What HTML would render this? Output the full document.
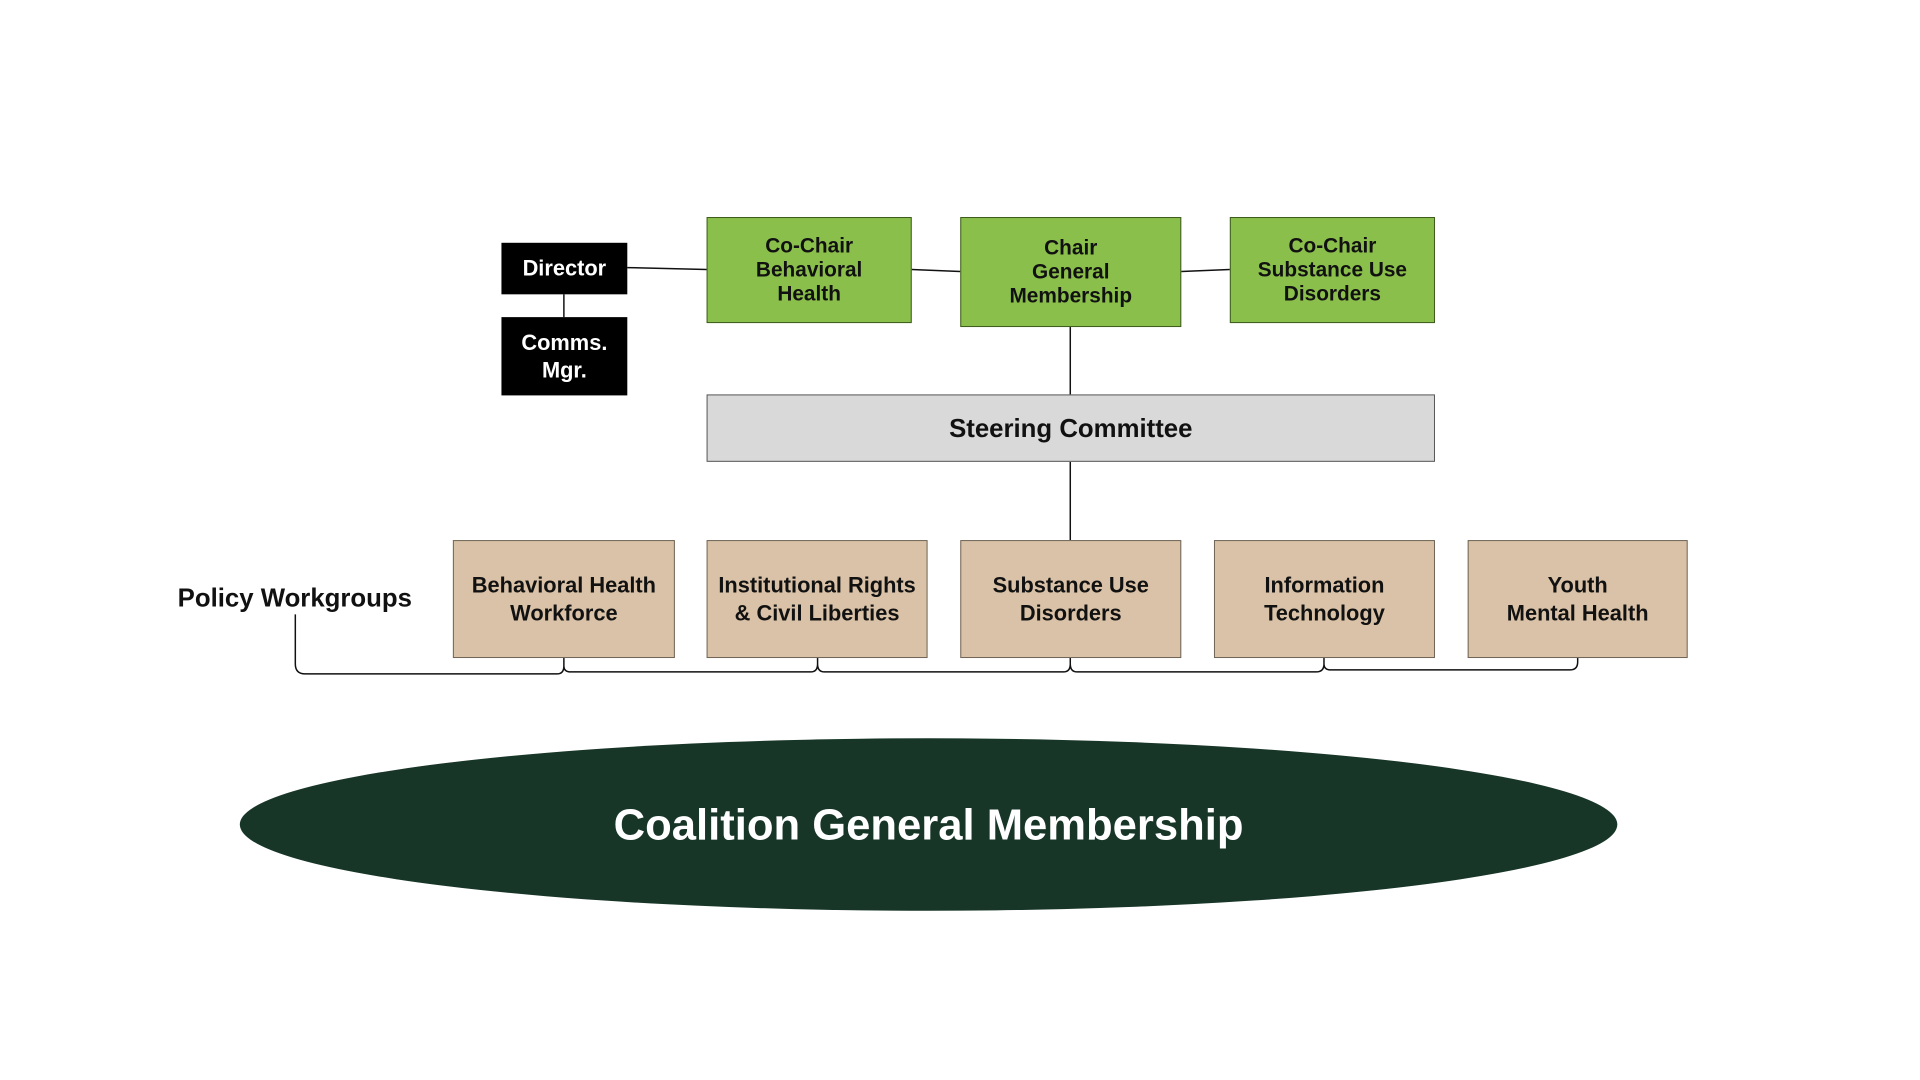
<!DOCTYPE html>
<html><head><meta charset="utf-8"><style>
html,body{margin:0;padding:0;background:#fff;}
body{width:1920px;height:1080px;position:relative;overflow:hidden;font-family:"Liberation Sans",sans-serif;font-weight:bold;}
#w{position:absolute;left:0;top:0;width:1920px;height:1080px;transform:scale(0.991);transform-origin:0 0;}
.b{position:absolute;box-sizing:border-box;display:flex;align-items:center;justify-content:center;text-align:center;font-size:21px;line-height:24px;}
.k{background:#000;color:#fff;}
.g{background:#8bbf4b;border:1px solid #3d5a1e;color:#111;}
.s{background:#d9d9d9;border:1px solid #555;color:#111;font-size:26px;}
.t{background:#d9c2a7;border:1px solid #6e6456;color:#111;line-height:28px;font-size:22px;}
svg{position:absolute;left:0;top:0;}
</style></head><body><div id="w">
<svg width="1920" height="1080">
<g stroke="#111" stroke-width="1.5" fill="none">
<line x1="633" y1="270" x2="713" y2="272"/>
<line x1="920" y1="272" x2="969" y2="274"/>
<line x1="1192" y1="274" x2="1241" y2="272"/>
<line x1="569" y1="297" x2="569" y2="320"/>
<line x1="1080" y1="330" x2="1080" y2="398"/>
<line x1="1080" y1="466" x2="1080" y2="545"/>
<path d="M298 620 V670 Q298 680 308 680 H562 Q569 680 569 672 V664 M569 672 Q569 678 576 678 H818 Q825 678 825 670 V664 M825 670 Q825 678 832 678 H1073 Q1080 678 1080 670 V664 M1080 670 Q1080 678 1087 678 H1328 Q1336 678 1336 670 V664 M1336 670 Q1336 676 1343 676 H1584 Q1592 676 1592 668 V664"/>
</g>
<ellipse cx="937" cy="832" rx="695" ry="87" fill="#183628"/>
<text x="937" y="847" fill="#fff" font-family="Liberation Sans, sans-serif" font-weight="bold" font-size="44" text-anchor="middle">Coalition General Membership</text>
</svg>
<div class="b k" style="left:506px;top:245px;width:127px;height:52px;font-size:22px;">Director</div>
<div class="b k" style="left:506px;top:320px;width:127px;height:79px;line-height:28px;font-size:22px;">Comms.<br>Mgr.</div>
<div class="b g" style="left:713px;top:219px;width:207px;height:107px;">Co-Chair<br>Behavioral<br>Health</div>
<div class="b g" style="left:969px;top:219px;width:223px;height:111px;">Chair<br>General<br>Membership</div>
<div class="b g" style="left:1241px;top:219px;width:207px;height:107px;">Co-Chair<br>Substance Use<br>Disorders</div>
<div class="b s" style="left:713px;top:398px;width:735px;height:68px;">Steering Committee</div>
<div class="b t" style="left:457px;top:545px;width:224px;height:119px;">Behavioral Health<br>Workforce</div>
<div class="b t" style="left:713px;top:545px;width:223px;height:119px;">Institutional Rights<br>&amp; Civil Liberties</div>
<div class="b t" style="left:969px;top:545px;width:223px;height:119px;">Substance Use<br>Disorders</div>
<div class="b t" style="left:1225px;top:545px;width:223px;height:119px;">Information<br>Technology</div>
<div class="b t" style="left:1481px;top:545px;width:222px;height:119px;">Youth<br>Mental Health</div>
<div class="b" style="left:150px;top:588px;width:295px;height:30px;font-size:26px;color:#111;">Policy Workgroups</div>
</div></body></html>
